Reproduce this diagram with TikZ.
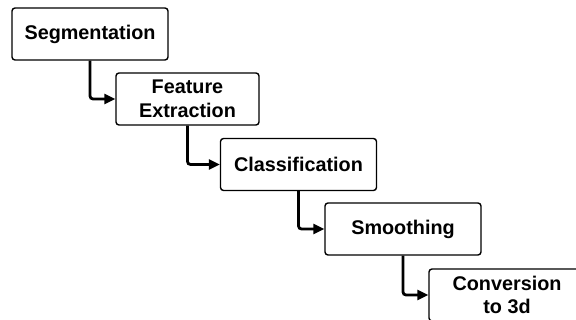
\documentclass[tikz,border=0pt]{standalone}
\usepackage{fontspec}
\setmainfont{Liberation Sans}
\usetikzlibrary{arrows.meta}
\begin{document}
\begin{tikzpicture}[x=1pt,y=-1pt,
  stage/.style={draw=black, line width=1.4pt, rounded corners=3pt, fill=white,
    minimum height=52pt, align=center, inner sep=0pt,
    font=\fontsize{19.8}{23.5}\selectfont\bfseries},
  conn/.style={line width=2.8pt, rounded corners=3pt,
    -{Triangle[length=11pt,width=10pt]}}]
\useasboundingbox (0,0) rectangle (576,320);
\node[stage, minimum width=156pt] (b1) at (90,34) {Segmentation};
\node[stage, minimum width=143pt] (b2) at (187.5,99) {Feature\\Extraction};
\node[stage, minimum width=156pt] (b3) at (298.5,164.5) {Classification};
\node[stage, minimum width=156pt] (b4) at (403,229) {Smoothing};
\node[stage, minimum width=156pt] (b5) at (507,295) {Conversion\\to 3d};
\draw[conn] (b1.south) |- (b2.west);
\draw[conn] (b2.south) |- (b3.west);
\draw[conn] (b3.south) |- (b4.west);
\draw[conn] (b4.south) |- (b5.west);
\end{tikzpicture}
\end{document}
